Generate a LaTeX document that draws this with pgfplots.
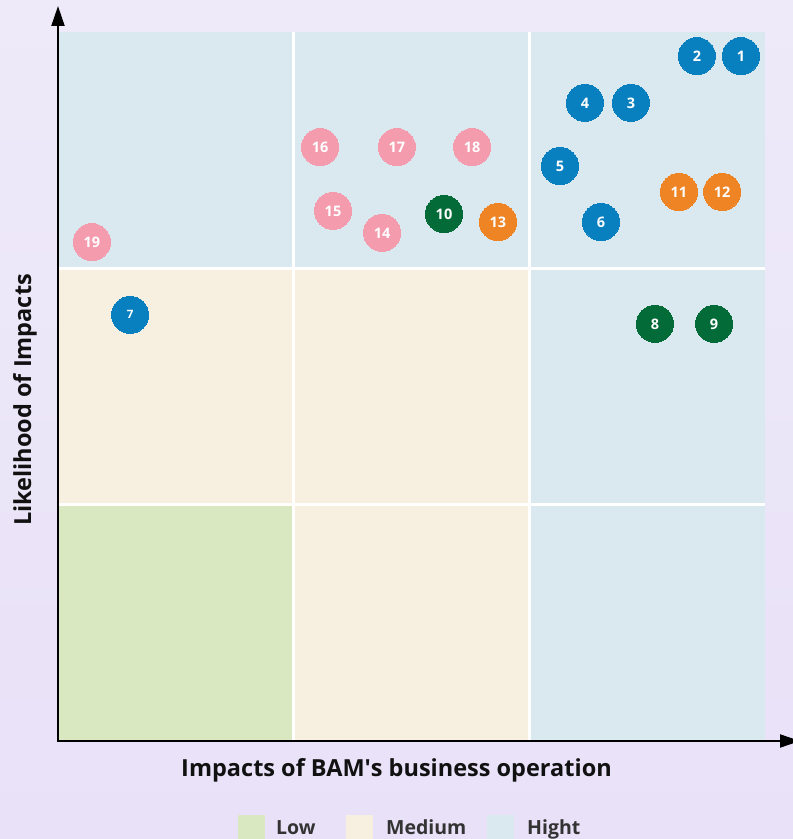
\documentclass[border=0pt]{standalone}
\usepackage{pgfplots}
\pgfplotsset{compat=1.18}
\usepackage{fontspec}
\setmainfont{Open Sans}
\usetikzlibrary{arrows.meta}
\definecolor{bgtop}{RGB}{238,234,249}
\definecolor{bgbot}{RGB}{233,225,248}
\definecolor{lowc}{RGB}{217,232,192}
\definecolor{medc}{RGB}{247,240,224}
\definecolor{highc}{RGB}{218,232,240}
\definecolor{cblue}{RGB}{8,128,192}
\definecolor{cpink}{RGB}{244,156,174}
\definecolor{cgreen}{RGB}{3,107,56}
\definecolor{corange}{RGB}{238,132,36}
\definecolor{titlec}{RGB}{17,17,17}
\definecolor{legc}{RGB}{51,51,51}
\pgfplotsset{
  bubble/.style={only marks, mark=*, mark size=18.5pt, color=#1,
    mark options={draw=#1, fill=#1, line width=0pt},
    nodes near coords, point meta=explicit symbolic,
    every node near coord/.append style={anchor=center, text=white,
      font=\bfseries\fontsize{14.5}{14.5}\selectfont, inner sep=0pt}},
}
\begin{document}
\begin{tikzpicture}[x=1pt,y=1pt]
\clip (-58,-98) rectangle (735,741);
\shade[top color=bgtop, bottom color=bgbot] (-58,-98) rectangle (735,741);
\begin{axis}[at={(0,0)}, anchor=south west, scale only axis,
  width=707pt, height=709pt, xmin=0, xmax=3, ymin=0, ymax=3,
  axis lines=none, clip=false]
% cells
\addplot[fill=lowc, draw=none] coordinates {(0,0)(1,0)(1,1)(0,1)} -- cycle;
\addplot[fill=medc, draw=none] coordinates {(1,0)(2,0)(2,1)(1,1)} -- cycle;
\addplot[fill=highc, draw=none] coordinates {(2,0)(3,0)(3,1)(2,1)} -- cycle;
\addplot[fill=medc, draw=none] coordinates {(0,1)(1,1)(1,2)(0,2)} -- cycle;
\addplot[fill=medc, draw=none] coordinates {(1,1)(2,1)(2,2)(1,2)} -- cycle;
\addplot[fill=highc, draw=none] coordinates {(2,1)(3,1)(3,2)(2,2)} -- cycle;
\addplot[fill=highc, draw=none] coordinates {(0,2)(1,2)(1,3)(0,3)} -- cycle;
\addplot[fill=highc, draw=none] coordinates {(1,2)(2,2)(2,3)(1,3)} -- cycle;
\addplot[fill=highc, draw=none] coordinates {(2,2)(3,2)(3,3)(2,3)} -- cycle;
% white separators
\addplot[draw=white, line width=3pt] coordinates {(1,0)(1,3)};
\addplot[draw=white, line width=3pt] coordinates {(2,0)(2,3)};
\addplot[draw=white, line width=3pt] coordinates {(0,1)(3,1)};
\addplot[draw=white, line width=3pt] coordinates {(0,2)(3,2)};
% bubbles
\addplot[bubble=cblue] table[meta=label] {
x y label
2.898 2.898 1
2.711 2.898 2
2.431 2.700 3
2.236 2.700 4
2.130 2.433 5
2.304 2.196 6
};
\addplot[bubble=cblue, every node near coord/.append style={font=\bfseries\fontsize{11.5}{11.5}\selectfont}] table[meta=label] {
x y label
0.306 1.803 7
};
\addplot[bubble=cgreen] table[meta=label] {
x y label
2.533 1.765 8
2.784 1.765 9
1.638 2.230 10
};
\addplot[bubble=corange] table[meta=label] {
x y label
2.635 2.323 11
2.818 2.323 12
1.867 2.196 13
};
\addplot[bubble=cpink] table[meta=label] {
x y label
1.375 2.150 14
1.167 2.243 15
1.112 2.513 16
1.438 2.513 17
1.757 2.513 18
0.144 2.111 19
};
\end{axis}
% axes with arrows
\draw[line width=2pt, -{Triangle[length=20pt,width=13pt]}] (0,-1) -- (0,735);
\draw[line width=2pt, -{Triangle[length=20pt,width=13pt]}] (-1,0) -- (742,0);
% axis titles
\node[text=titlec, font=\bfseries\fontsize{23.5}{26}\selectfont] at (338.5,-29) {Impacts of BAM\textquotesingle s business operation};
\node[text=titlec, font=\bfseries\fontsize{23.5}{26}\selectfont, rotate=90] at (-33,341) {Likelihood of Impacts};
% legend
\fill[lowc] (180,-74) rectangle (207,-102);
\fill[medc] (288,-74) rectangle (315,-102);
\fill[highc] (429,-74) rectangle (456,-102);
\node[text=legc, font=\bfseries\fontsize{19.5}{22}\selectfont, anchor=base west, inner sep=0pt] at (218,-93) {Low};
\node[text=legc, font=\bfseries\fontsize{19.5}{22}\selectfont, anchor=base west, inner sep=0pt] at (328,-93) {Medium};
\node[text=legc, font=\bfseries\fontsize{19.5}{22}\selectfont, anchor=base west, inner sep=0pt] at (469,-93) {Hight};
\end{tikzpicture}
\end{document}
